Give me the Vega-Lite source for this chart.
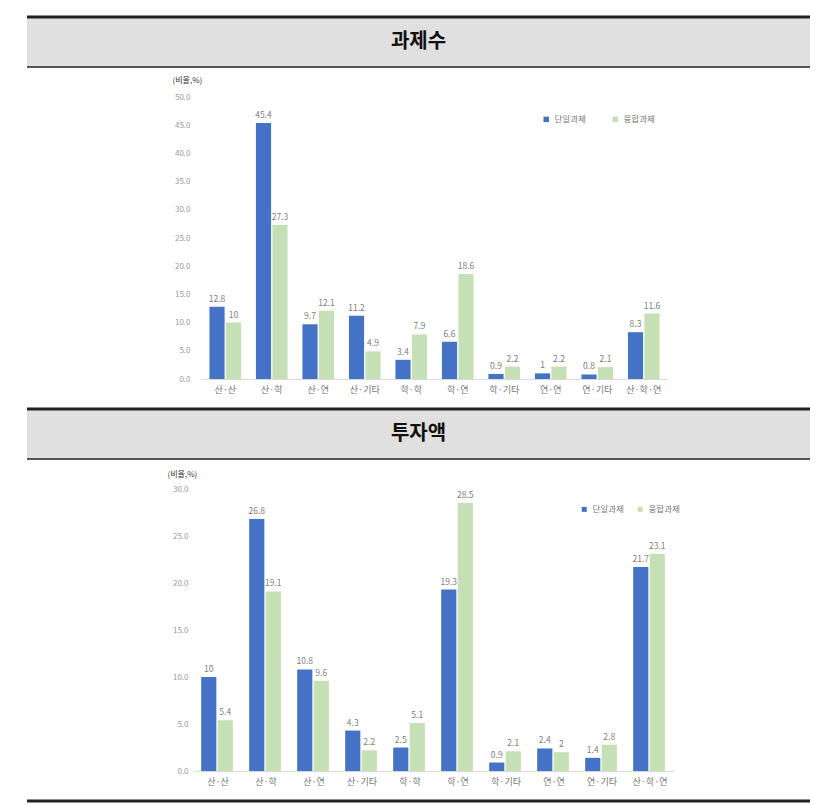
{
  "$schema": "https://vega.github.io/schema/vega-lite/v6.json",
  "padding": {"left": 25, "right": 21, "top": 15, "bottom": 0},
  "background": "white",
  "config": {"font": "Noto Sans CJK KR", "view": {"stroke": null}},
  "datasets": {
    "count": [
      {"cat": "산·산", "type": "단일과제", "value": 12.8},
      {"cat": "산·학", "type": "단일과제", "value": 45.4},
      {"cat": "산·연", "type": "단일과제", "value": 9.7},
      {"cat": "산·기타", "type": "단일과제", "value": 11.2},
      {"cat": "학·학", "type": "단일과제", "value": 3.4},
      {"cat": "학·연", "type": "단일과제", "value": 6.6},
      {"cat": "학·기타", "type": "단일과제", "value": 0.9},
      {"cat": "연·연", "type": "단일과제", "value": 1},
      {"cat": "연·기타", "type": "단일과제", "value": 0.8},
      {"cat": "산·학·연", "type": "단일과제", "value": 8.3},
      {"cat": "산·산", "type": "융합과제", "value": 10},
      {"cat": "산·학", "type": "융합과제", "value": 27.3},
      {"cat": "산·연", "type": "융합과제", "value": 12.1},
      {"cat": "산·기타", "type": "융합과제", "value": 4.9},
      {"cat": "학·학", "type": "융합과제", "value": 7.9},
      {"cat": "학·연", "type": "융합과제", "value": 18.6},
      {"cat": "학·기타", "type": "융합과제", "value": 2.2},
      {"cat": "연·연", "type": "융합과제", "value": 2.2},
      {"cat": "연·기타", "type": "융합과제", "value": 2.1},
      {"cat": "산·학·연", "type": "융합과제", "value": 11.6}
    ],
    "invest": [
      {"cat": "산·산", "type": "단일과제", "value": 10},
      {"cat": "산·학", "type": "단일과제", "value": 26.8},
      {"cat": "산·연", "type": "단일과제", "value": 10.8},
      {"cat": "산·기타", "type": "단일과제", "value": 4.3},
      {"cat": "학·학", "type": "단일과제", "value": 2.5},
      {"cat": "학·연", "type": "단일과제", "value": 19.3},
      {"cat": "학·기타", "type": "단일과제", "value": 0.9},
      {"cat": "연·연", "type": "단일과제", "value": 2.4},
      {"cat": "연·기타", "type": "단일과제", "value": 1.4},
      {"cat": "산·학·연", "type": "단일과제", "value": 21.7},
      {"cat": "산·산", "type": "융합과제", "value": 5.4},
      {"cat": "산·학", "type": "융합과제", "value": 19.1},
      {"cat": "산·연", "type": "융합과제", "value": 9.6},
      {"cat": "산·기타", "type": "융합과제", "value": 2.2},
      {"cat": "학·학", "type": "융합과제", "value": 5.1},
      {"cat": "학·연", "type": "융합과제", "value": 28.5},
      {"cat": "학·기타", "type": "융합과제", "value": 2.1},
      {"cat": "연·연", "type": "융합과제", "value": 2},
      {"cat": "연·기타", "type": "융합과제", "value": 2.8},
      {"cat": "산·학·연", "type": "융합과제", "value": 23.1}
    ],
    "headers": [{"t": "과제수"}, {"t": "투자액"}, {"t": "end"}]
  },
  "spacing": 30,
  "bounds": "flush",
  "resolve": {"legend": {"color": "independent"}, "scale": {"color": "independent"}},
  "vconcat": [
    {
      "width": 783, "height": 50,
      "data": {"name": "headers"},
      "transform": [{"filter": "datum.t === '과제수'"}],
      "view": {"fill": "#e0e0e0", "stroke": null},
      "layer": [
        {"mark": {"type": "rule", "color": "#222", "strokeWidth": 3},
         "encoding": {"y": {"datum": "top", "type": "ordinal", "scale": {"type": "point", "domain": ["top", "bottom"], "padding": 0}, "axis": null}}},
        {"mark": {"type": "rule", "color": "#555", "strokeWidth": 2},
         "encoding": {"y": {"datum": "bottom", "type": "ordinal"}}},
        {"mark": {"type": "text", "fontSize": 20, "fontWeight": "bold", "color": "#111", "font": "Noto Sans CJK KR"},
         "encoding": {"text": {"field": "t", "type": "nominal"}}}
      ]
    },
    {
      "width": 783, "height": 282,
      "data": {"name": "count"},
      "encoding": {
        "x": {"field": "cat", "type": "nominal", "sort": null,
              "scale": {"range": [175, 640], "paddingInner": 0.32, "paddingOuter": 0.16},
              "axis": {"title": null, "labelAngle": 0, "ticks": false, "domainColor": "#d9d9d9", "labelFontSize": 9, "labelColor": "#777", "labelPadding": 6, "labelOverlap": false}},
        "xOffset": {"field": "type", "sort": ["단일과제", "융합과제"], "scale": {"paddingInner": 0.08}},
        "y": {"field": "value", "type": "quantitative", "scale": {"domain": [0, 50]},
              "axis": {"title": "(비율,%)", "titleAngle": 0, "titleAlign": "left", "titleBaseline": "middle", "titleX": -21, "titleY": -17, "titleFontSize": 8, "titleFontWeight": "normal", "titleColor": "#333",
                       "offset": -166, "domain": false, "ticks": false, "grid": false, "values": [0, 5, 10, 15, 20, 25, 30, 35, 40, 45, 50], "format": ".1f", "labelFontSize": 8, "labelColor": "#999", "labelPadding": 3, "labelOverlap": false}}
      },
      "layer": [
        {"mark": {"type": "bar"},
         "encoding": {
           "color": {"field": "type", "type": "nominal", "scale": {"domain": ["단일과제", "융합과제"], "range": ["#4472C4", "#C5E0B4"]},
                     "legend": {"title": null, "orient": "none", "legendX": 515, "legendY": 18, "direction": "horizontal", "symbolType": "square", "symbolSize": 30, "labelFontSize": 8.5, "labelColor": "#777", "columnPadding": 25}}
         }},
        {"mark": {"type": "text", "dy": -8, "fontSize": 8.5, "color": "#808080"},
         "encoding": {"text": {"field": "value", "type": "nominal"}}}
      ]
    },
    {
      "width": 783, "height": 50,
      "data": {"name": "headers"},
      "transform": [{"filter": "datum.t === '투자액'"}],
      "view": {"fill": "#e0e0e0", "stroke": null},
      "layer": [
        {"mark": {"type": "rule", "color": "#222", "strokeWidth": 3},
         "encoding": {"y": {"datum": "top", "type": "ordinal", "scale": {"type": "point", "domain": ["top", "bottom"], "padding": 0}, "axis": null}}},
        {"mark": {"type": "rule", "color": "#555", "strokeWidth": 2},
         "encoding": {"y": {"datum": "bottom", "type": "ordinal"}}},
        {"mark": {"type": "text", "fontSize": 20, "fontWeight": "bold", "color": "#111", "font": "Noto Sans CJK KR"},
         "encoding": {"text": {"field": "t", "type": "nominal"}}}
      ]
    },
    {
      "width": 783, "height": 282,
      "data": {"name": "invest"},
      "encoding": {
        "x": {"field": "cat", "type": "nominal", "sort": null,
              "scale": {"range": [167, 647], "paddingInner": 0.3, "paddingOuter": 0.15},
              "axis": {"title": null, "labelAngle": 0, "ticks": false, "domainColor": "#d9d9d9", "labelFontSize": 9, "labelColor": "#777", "labelPadding": 6, "labelOverlap": false}},
        "xOffset": {"field": "type", "sort": ["단일과제", "융합과제"], "scale": {"paddingInner": 0.08}},
        "y": {"field": "value", "type": "quantitative", "scale": {"domain": [0, 30]},
              "axis": {"title": "(비율,%)", "titleAngle": 0, "titleAlign": "left", "titleBaseline": "middle", "titleX": -24, "titleY": -15, "titleFontSize": 8, "titleFontWeight": "normal", "titleColor": "#333",
                       "offset": -164, "domain": false, "ticks": false, "grid": false, "values": [0, 5, 10, 15, 20, 25, 30], "format": ".1f", "labelFontSize": 8, "labelColor": "#999", "labelPadding": 3, "labelOverlap": false}}
      },
      "layer": [
        {"mark": {"type": "bar"},
         "encoding": {
           "color": {"field": "type", "type": "nominal", "scale": {"domain": ["단일과제", "융합과제"], "range": ["#4472C4", "#C5E0B4"]},
                     "legend": {"title": null, "orient": "none", "legendX": 553, "legendY": 16, "direction": "horizontal", "symbolType": "square", "symbolSize": 25, "labelFontSize": 8.5, "labelColor": "#777", "columnPadding": 12}}
         }},
        {"mark": {"type": "text", "dy": -8, "fontSize": 8.5, "color": "#808080"},
         "encoding": {"text": {"field": "value", "type": "nominal"}}}
      ]
    },
    {
      "width": 783, "height": 2,
      "data": {"name": "headers"},
      "transform": [{"filter": "datum.t === 'end'"}],
      "mark": {"type": "rule", "color": "#222", "strokeWidth": 3},
      "encoding": {"y": {"datum": "top", "type": "ordinal", "scale": {"type": "point", "domain": ["top", "bottom"], "padding": 0}, "axis": null}}
    }
  ]
}
